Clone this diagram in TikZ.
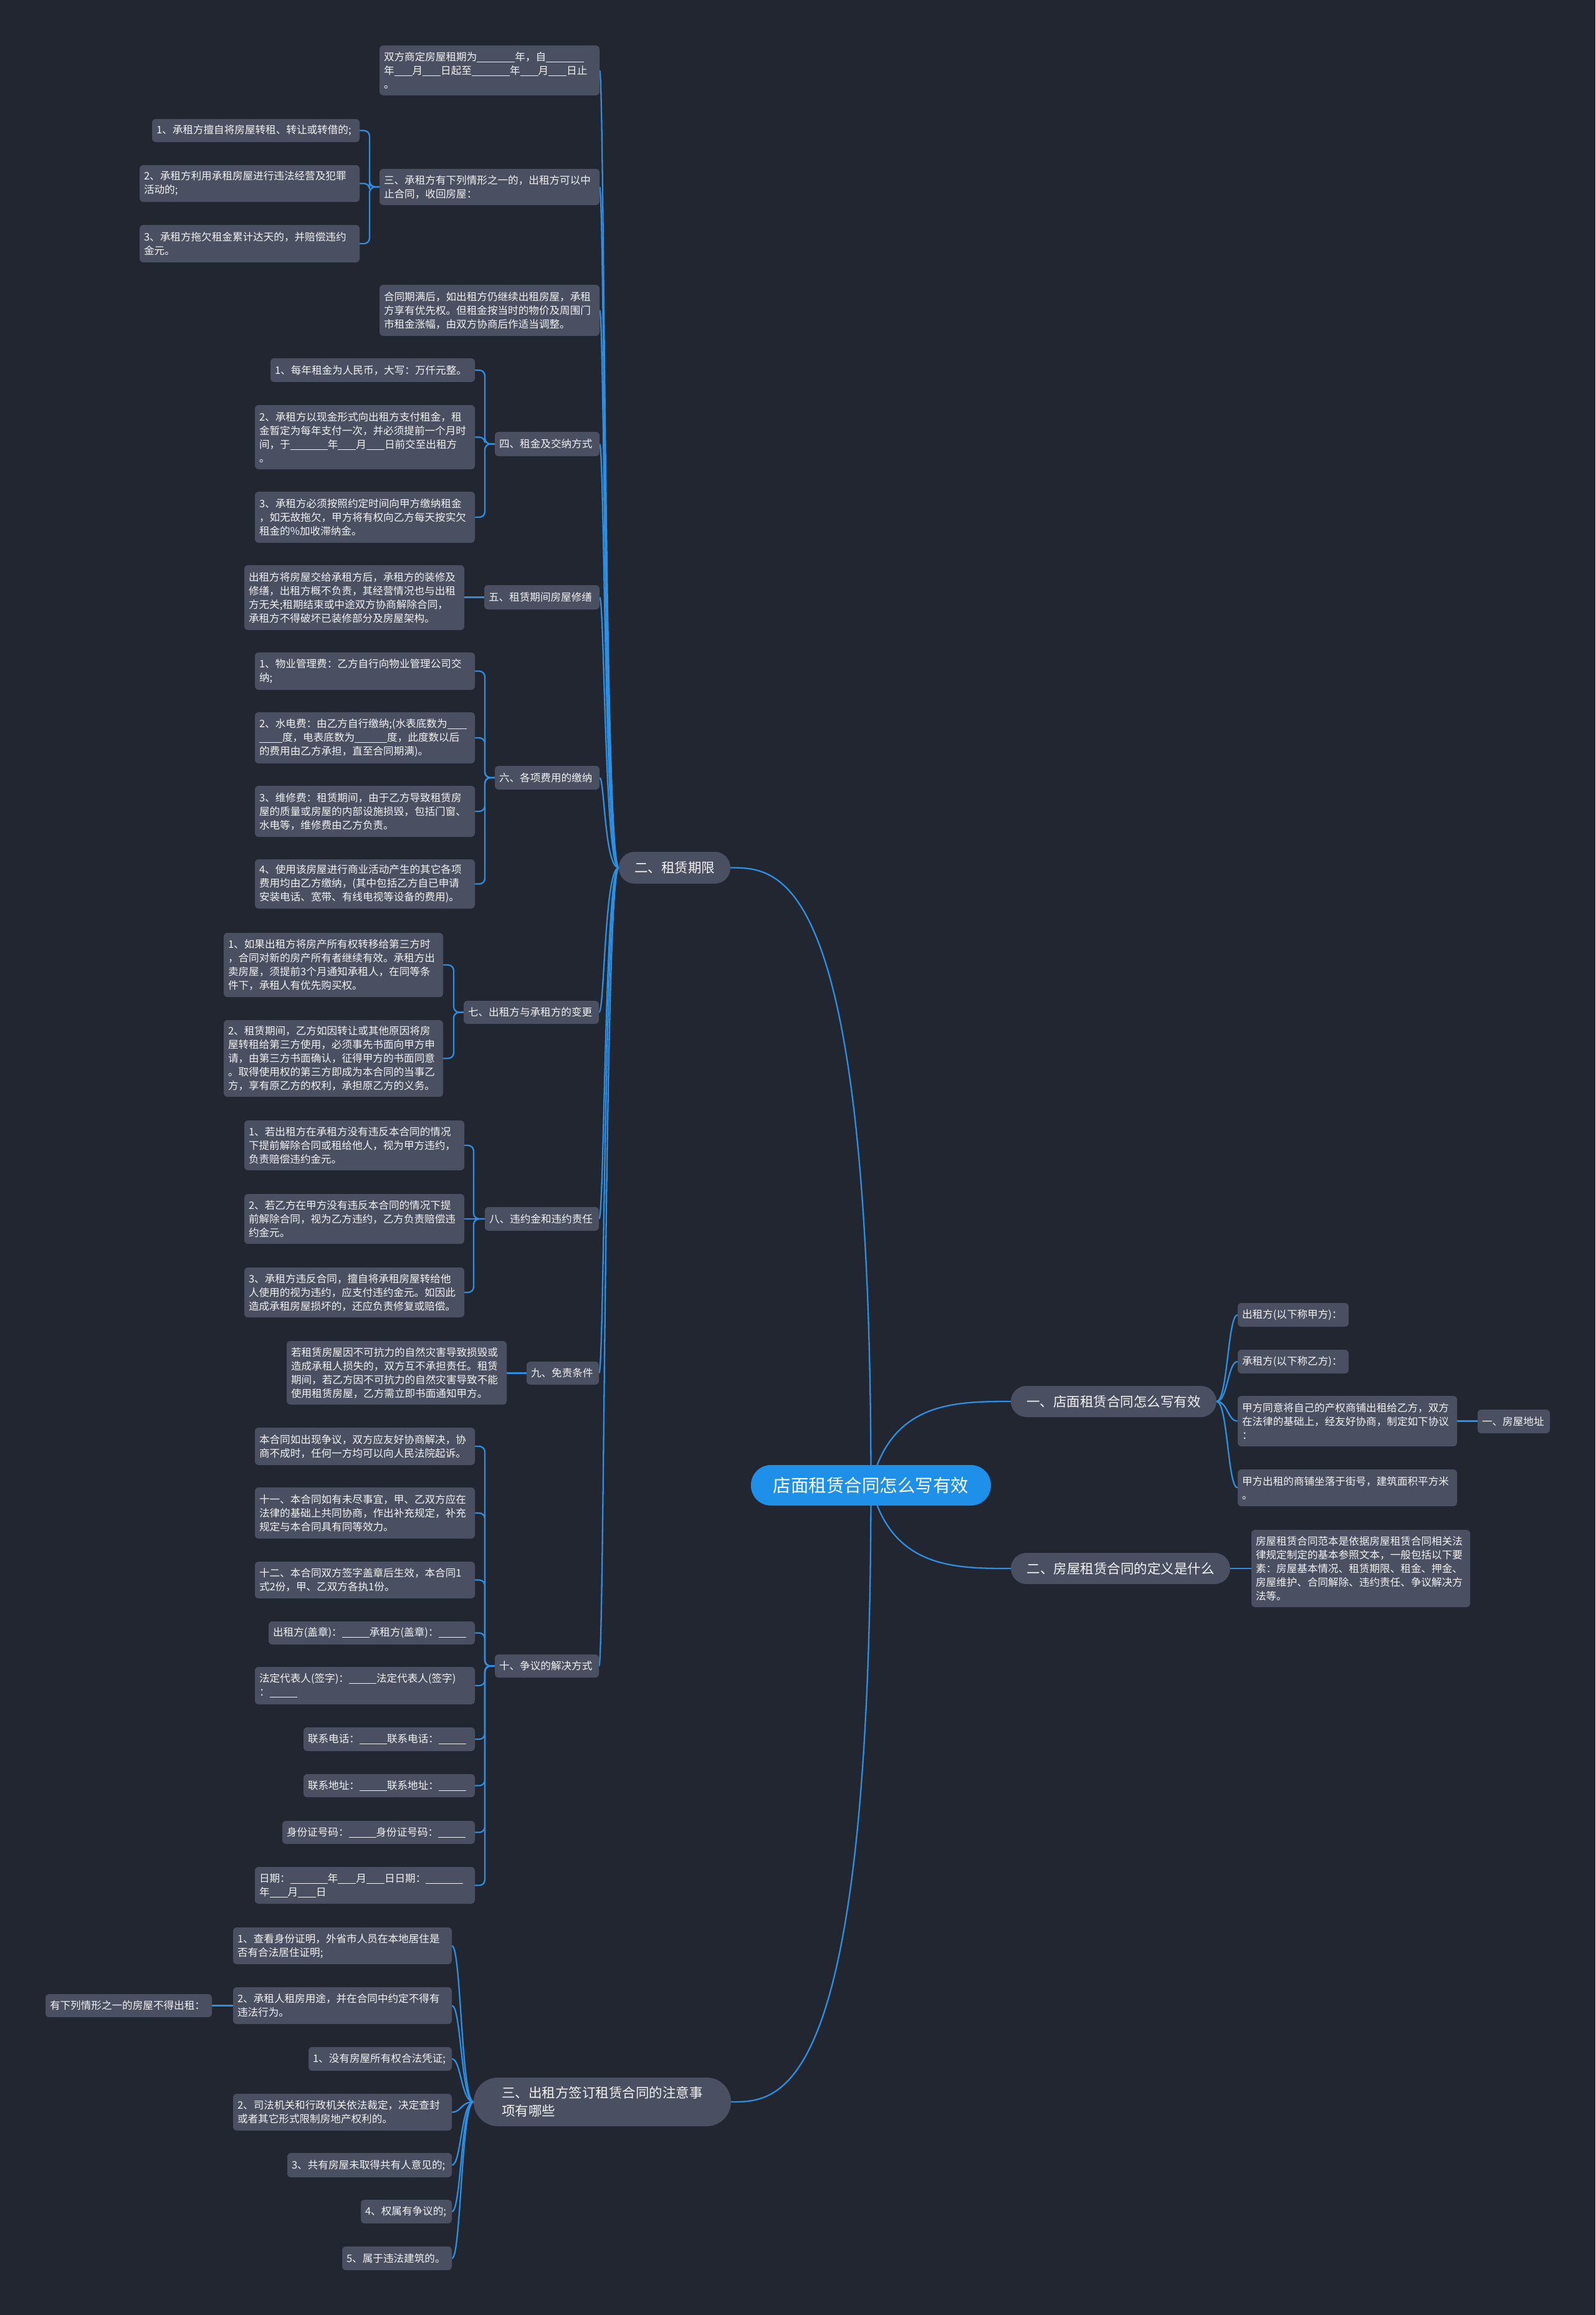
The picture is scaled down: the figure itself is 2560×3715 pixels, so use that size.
\documentclass[tikz,border=0pt]{standalone}
\usepackage{fontspec}
\setmainfont{Noto Sans CJK SC}
\usetikzlibrary{calc}
\definecolor{bgc}{HTML}{222631}
\definecolor{nodec}{HTML}{4A5062}
\definecolor{linec}{HTML}{2C8FE2}
\definecolor{rootc}{HTML}{1E90EA}
\definecolor{txtc}{HTML}{F2F2F2}
\pgfdeclarelayer{bglayer}
\pgfdeclarelayer{edgelayer}
\pgfsetlayers{bglayer,edgelayer,main}
\tikzset{
 tb/.style={fill=nodec, rounded corners=6pt, text=txtc, inner xsep=7pt, inner ysep=0pt, align=left, font=\fontsize{16.6}{22}\selectfont},
 pl/.style={fill=nodec, text=txtc, inner xsep=0pt, inner ysep=0pt, align=left, font=\fontsize{21.5}{29}\selectfont},
 rootnode/.style={fill=rootc, text=white, inner sep=0pt, align=center, font=\fontsize{28.5}{34}\selectfont},
 conn/.style={draw=linec, line width=2.3pt},
}
\newcommand\bl[1]{\rule[-2.5pt]{#1pt}{1pt}}
\newcommand\tbox[6]{%
 \pgfmathsetmacro\bw{#4-#2}\pgfmathsetmacro\bh{#5-#3}\pgfmathsetmacro\tw{#4-#2-14}%
 \pgfmathsetmacro\cx{(#2+#4)/2}\pgfmathsetmacro\cy{(#3+#5)/2}%
 \node[tb, minimum width=\bw pt, text width=\tw pt, minimum height=\bh pt] (#1) at (\cx,\cy) {#6};}
\newcommand\pbox[7]{%
 \pgfmathsetmacro\bw{#4-#2}\pgfmathsetmacro\bh{#5-#3}%
 \pgfmathsetmacro\cx{(#2+#4)/2}\pgfmathsetmacro\cy{(#3+#5)/2}%
 \node[pl, minimum width=\bw pt, minimum height=\bh pt, rounded corners=#6pt] (#1) at (\cx,\cy) {#7};}
\newcommand\cL[3]{\draw[conn] (#1.west) .. controls (#3 |- #1.west) and (#3 |- #2.east) .. (#2.east);}
\newcommand\cR[3]{\draw[conn] (#1.east) .. controls (#3 |- #1.east) and (#3 |- #2.west) .. (#2.west);}
\newcommand\bL[3]{\draw[conn,rounded corners=9pt] (#1.west) -- (#3 |- #1.west) -- (#3 |- #2.east) -- (#2.east);}
\newcommand\sL[2]{\draw[conn] (#1.west) -- (#1.west -| #2.east);}
\newcommand\sR[2]{\draw[conn] (#1.east) -- (#1.east -| #2.west);}
\begin{document}
\begin{tikzpicture}[x=1pt,y=-1pt]
\useasboundingbox (0,0) rectangle (2560,3715);
\begin{pgfonlayer}{bglayer}
\fill[bgc] (0,0) rectangle (2560,3715);
\end{pgfonlayer}
% bus coordinates
\coordinate (bA) at (970,0);
\coordinate (b2) at (593,0);
\coordinate (b4) at (778,0);
\coordinate (b7) at (728,0);
\coordinate (b8) at (760,0);
\coordinate (bC) at (740,0);
\coordinate (bR) at (1970,0);
% root and level 1
\node[rootnode, minimum width=385pt, minimum height=65pt, rounded corners=32pt] (root) at (1397.5,2383.5) {店面租赁合同怎么写有效};
\pbox{L1a}{993}{1367}{1172}{1418}{25}{二、租赁期限}
\pbox{L1c}{760}{3334}{1173}{3412}{39}{三、出租方签订租赁合同的注意事\\项有哪些}
\pbox{R1}{1622}{2224}{1952}{2274}{25}{一、店面租赁合同怎么写有效}
\pbox{R2}{1622}{2492}{1974}{2542}{25}{二、房屋租赁合同的定义是什么}
% left tree
\tbox{n1}{609}{73}{962}{153}{双方商定房屋租期为\bl{61}年，自\bl{61}\\年\bl{29}月\bl{29}日起至\bl{61}年\bl{29}月\bl{29}日止\\。}
\tbox{n2}{609}{271}{962}{329}{三、承租方有下列情形之一的，出租方可以中\\止合同，收回房屋：}
\tbox{n2a}{244}{191}{577}{228}{1、承租方擅自将房屋转租、转让或转借的;}
\tbox{n2b}{224}{265}{577}{324}{2、承租方利用承租房屋进行违法经营及犯罪\\活动的;}
\tbox{n2c}{224}{361}{577}{421}{3、承租方拖欠租金累计达天的，并赔偿违约\\金元。}
\tbox{n3}{609}{457}{962}{539}{合同期满后，如出租方仍继续出租房屋，承租\\方享有优先权。但租金按当时的物价及周围门\\市租金涨幅，由双方协商后作适当调整。}
\tbox{n4}{794}{693}{962}{732}{四、租金及交纳方式}
\tbox{n4a}{434}{575}{762}{613}{1、每年租金为人民币，大写：万仟元整。}
\tbox{n4b}{409}{650}{762}{753}{2、承租方以现金形式向出租方支付租金，租\\金暂定为每年支付一次，并必须提前一个月时\\间，于\bl{60}年\bl{29}月\bl{29}日前交至出租方\\。}
\tbox{n4c}{409}{789}{762}{871}{3、承租方必须按照约定时间向甲方缴纳租金\\，如无故拖欠，甲方将有权向乙方每天按实欠\\租金的\%加收滞纳金。}
\tbox{n5}{777}{939}{962}{978}{五、租赁期间房屋修缮}
\tbox{n5a}{392}{907}{745}{1011}{出租方将房屋交给承租方后，承租方的装修及\\修缮，出租方概不负责，其经营情况也与出租\\方无关;租期结束或中途双方协商解除合同，\\承租方不得破坏已装修部分及房屋架构。}
\tbox{n6}{794}{1229}{962}{1267}{六、各项费用的缴纳}
\tbox{n6a}{409}{1047}{762}{1107}{1、物业管理费：乙方自行向物业管理公司交\\纳;}
\tbox{n6b}{409}{1143}{762}{1225}{2、水电费：由乙方自行缴纳;(水表底数为\bl{31}\\\bl{37}度，电表底数为\bl{52}度，此度数以后\\的费用由乙方承担，直至合同期满)。}
\tbox{n6c}{409}{1261}{762}{1343}{3、维修费：租赁期间，由于乙方导致租赁房\\屋的质量或房屋的内部设施损毁，包括门窗、\\水电等，维修费由乙方负责。}
\tbox{n6d}{409}{1379}{762}{1458}{4、使用该房屋进行商业活动产生的其它各项\\费用均由乙方缴纳，(其中包括乙方自已申请\\安装电话、宽带、有线电视等设备的费用)。}
\tbox{n7}{744}{1606}{961}{1643}{七、出租方与承租方的变更}
\tbox{n7a}{359}{1497}{711}{1600}{1、如果出租方将房产所有权转移给第三方时\\，合同对新的房产所有者继续有效。承租方出\\卖房屋，须提前3个月通知承租人，在同等条\\件下，承租人有优先购买权。}
\tbox{n7b}{359}{1637}{711}{1760}{2、租赁期间，乙方如因转让或其他原因将房\\屋转租给第三方使用，必须事先书面向甲方申\\请，由第三方书面确认，征得甲方的书面同意\\。取得使用权的第三方即成为本合同的当事乙\\方，享有原乙方的权利，承担原乙方的义务。}
\tbox{n8}{778}{1937}{961}{1975}{八、违约金和违约责任}
\tbox{n8a}{392}{1798}{745}{1878}{1、若出租方在承租方没有违反本合同的情况\\下提前解除合同或租给他人，视为甲方违约，\\负责赔偿违约金元。}
\tbox{n8b}{392}{1916}{745}{1996}{2、若乙方在甲方没有违反本合同的情况下提\\前解除合同，视为乙方违约，乙方负责赔偿违\\约金元。}
\tbox{n8c}{392}{2034}{745}{2114}{3、承租方违反合同，擅自将承租房屋转给他\\人使用的视为违约，应支付违约金元。如因此\\造成承租房屋损坏的，还应负责修复或赔偿。}
\tbox{n9}{845}{2185}{961}{2222}{九、免责条件}
\tbox{n9a}{460}{2152}{813}{2254}{若租赁房屋因不可抗力的自然灾害导致损毁或\\造成承租人损失的，双方互不承担责任。租赁\\期间，若乙方因不可抗力的自然灾害导致不能\\使用租赁房屋，乙方需立即书面通知甲方。}
\tbox{n10}{794}{2655}{961}{2692}{十、争议的解决方式}
\tbox{n10a}{409}{2291}{762}{2351}{本合同如出现争议，双方应友好协商解决，协\\商不成时，任何一方均可以向人民法院起诉。}
\tbox{n10b}{409}{2387}{762}{2469}{十一、本合同如有未尽事宜，甲、乙双方应在\\法律的基础上共同协商，作出补充规定，补充\\规定与本合同具有同等效力。}
\tbox{n10c}{409}{2506}{762}{2565}{十二、本合同双方签字盖章后生效，本合同1\\式2份，甲、乙双方各执1份。}
\tbox{n10d}{431}{2602}{762}{2639}{出租方(盖章)：\bl{44}承租方(盖章)：\bl{44}}
\tbox{n10e}{409}{2675}{762}{2735}{法定代表人(签字)：\bl{44}法定代表人(签字)\\：\bl{44}}
\tbox{n10f}{487}{2772}{762}{2810}{联系电话：\bl{44}联系电话：\bl{44}}
\tbox{n10g}{487}{2847}{762}{2884}{联系地址：\bl{44}联系地址：\bl{44}}
\tbox{n10h}{453}{2922}{762}{2959}{身份证号码：\bl{44}身份证号码：\bl{44}}
\tbox{n10i}{409}{2996}{762}{3055}{日期：\bl{60}年\bl{29}月\bl{29}日日期：\bl{60}\\年\bl{29}月\bl{29}日}
% bottom tree
\tbox{c1}{374}{3093}{725}{3152}{1、查看身份证明，外省市人员在本地居住是\\否有合法居住证明;}
\tbox{c2}{374}{3189}{725}{3248}{2、承租人租房用途，并在合同中约定不得有\\违法行为。}
\tbox{c2a}{73}{3200}{340}{3237}{有下列情形之一的房屋不得出租：}
\tbox{c3}{495}{3285}{725}{3323}{1、没有房屋所有权合法凭证;}
\tbox{c4}{374}{3360}{725}{3419}{2、司法机关和行政机关依法裁定，决定查封\\或者其它形式限制房地产权利的。}
\tbox{c5}{461}{3455}{725}{3494}{3、共有房屋未取得共有人意见的;}
\tbox{c6}{579}{3530}{725}{3568}{4、权属有争议的;}
\tbox{c7}{549}{3605}{725}{3643}{5、属于违法建筑的。}
% right tree
\tbox{r1a}{1986}{2091}{2164}{2129}{出租方(以下称甲方)：}
\tbox{r1b}{1986}{2166}{2164}{2204}{承租方(以下称乙方)：}
\tbox{r1c}{1986}{2240}{2338}{2321}{甲方同意将自己的产权商铺出租给乙方，双方\\在法律的基础上，经友好协商，制定如下协议\\：}
\tbox{r1c1}{2371}{2262}{2487}{2300}{一、房屋地址}
\tbox{r1d}{1986}{2358}{2338}{2417}{甲方出租的商铺坐落于街号，建筑面积平方米\\。}
\tbox{r2a}{2008}{2455}{2359}{2579}{房屋租赁合同范本是依据房屋租赁合同相关法\\律规定制定的基本参照文本，一般包括以下要\\素：房屋基本情况、租赁期限、租金、押金、\\房屋维护、合同解除、违约责任、争议解决方\\法等。}
% edges
\begin{pgfonlayer}{edgelayer}
\draw[conn] (root.center) .. controls (root.center |- L1a.east) and ($(L1a.east)+(80,0)$) .. (L1a.east);
\draw[conn] (root.center) .. controls (root.center |- L1c.east) and ($(L1c.east)+(80,0)$) .. (L1c.east);
\draw[conn] (root.center) .. controls ($(root.center |- R1.west)+(32,0)$) and ($(R1.west)+(-90,0)$) .. (R1.west);
\draw[conn] (root.center) .. controls ($(root.center |- R2.west)+(32,0)$) and ($(R2.west)+(-90,0)$) .. (R2.west);
\foreach \c in {n1,n2,n3,n4,n5,n6,n7,n8,n9,n10} {\cL{L1a}{\c}{bA}}
\foreach \c in {n2a,n2b,n2c} {\bL{n2}{\c}{b2}}
\foreach \c in {n4a,n4b,n4c} {\bL{n4}{\c}{b4}}
\sL{n5}{n5a}
\foreach \c in {n6a,n6b,n6c,n6d} {\bL{n6}{\c}{b4}}
\foreach \c in {n7a,n7b} {\bL{n7}{\c}{b7}}
\foreach \c in {n8a,n8c} {\bL{n8}{\c}{b8}}
\sL{n8}{n8b}
\sL{n9}{n9a}
\foreach \c in {n10a,n10b,n10c,n10d,n10e,n10f,n10g,n10h,n10i} {\bL{n10}{\c}{b4}}
\foreach \c in {c1,c2,c3,c4,c5,c6,c7} {\cL{L1c}{\c}{bC}}
\sL{c2}{c2a}
\foreach \c in {r1a,r1b,r1c,r1d} {\cR{R1}{\c}{bR}}
\sR{r1c}{r1c1}
\sR{R2}{r2a}
\end{pgfonlayer}
\end{tikzpicture}
\end{document}
